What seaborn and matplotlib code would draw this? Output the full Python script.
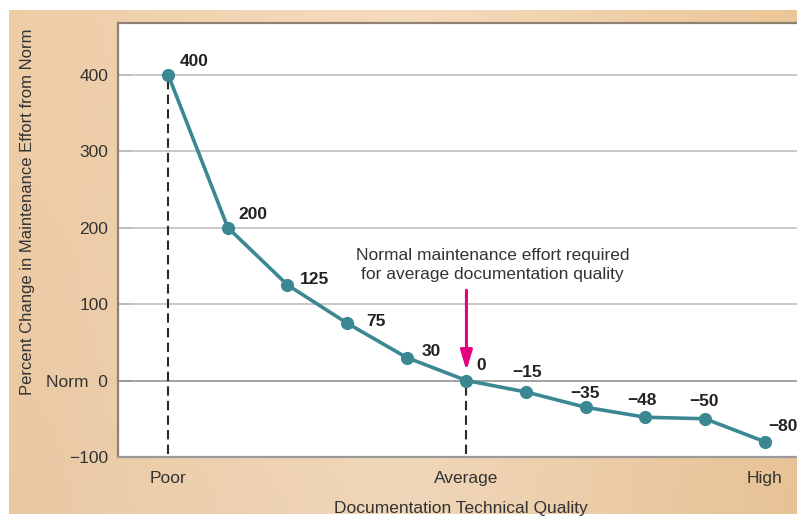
import numpy as np
import matplotlib
matplotlib.use("Agg")
import matplotlib.pyplot as plt
import seaborn as sns

# Documentation quality steps (Poor -> Average -> High) and effort change (%)
quality_index = [0, 1, 2, 3, 4, 5, 6, 7, 8, 9, 10]
effort_change = [400, 200, 125, 75, 30, 0, -15, -35, -48, -50, -80]
value_labels = ["400", "200", "125", "75", "30", "0", "\u221215", "\u221235", "\u221248", "\u221250", "\u221280"]

x_tick_pos = [0, 5, 10]
x_tick_labels = ["Poor", "Average", "High"]
y_tick_pos = [-100, 0, 100, 200, 300, 400]
y_tick_labels = ["\u2212100", "Norm  0", "100", "200", "300", "400"]

sns.set_theme(style="white")
plt.rcParams["font.family"] = ["Liberation Sans", "DejaVu Sans"]

fig = plt.figure(figsize=(7.97, 5.17), dpi=100, facecolor="white")

# warm tan backdrop
bg = fig.add_axes([9 / 797, 3 / 517, 1 - 9 / 797, 504 / 517], zorder=0)
gx = np.linspace(0, 1, 256)
c_left = np.array([0.925, 0.795, 0.645])
c_mid = np.array([0.950, 0.850, 0.735])
c_right = np.array([0.915, 0.770, 0.590])
w = np.clip(1 - np.abs(gx - 0.5) * 2, 0, 1)[:, None]
side = np.where(gx[:, None] < 0.5, c_left, c_right)
row = side * (1 - w) + c_mid * w
gy = np.linspace(0, 1, 64)[:, None, None]
img = row[None, :, :] * (0.99 + 0.02 * gy)
bg.imshow(np.clip(img, 0, 1), aspect="auto", extent=[0, 1, 0, 1], origin="lower")
bg.axis("off")

ax = fig.add_axes([118 / 797, 60 / 517, 679 / 797, 434 / 517], zorder=1)
ax.set_facecolor("white")
ax.set_xlim(-0.84, 10.54)
ax.set_ylim(-96, 467.5)

# horizontal reference lines
for yv in [100, 200, 300, 400]:
    ax.axhline(yv, color="#c4c4c4", lw=1.3, zorder=1)
ax.axhline(0, color="#9a9a9a", lw=1.3, zorder=1)

# dashed drop lines at Poor and Average
ax.vlines([quality_index[0], quality_index[5]], -96,
          [effort_change[0], effort_change[5]],
          colors="#2a2a2a", linestyles=(0, (4.5, 2.5)), lw=1.5, zorder=2)

teal = "#3b8893"
sns.lineplot(x=quality_index, y=effort_change, ax=ax, color=teal, lw=2.6,
             marker="o", markersize=9.5, markeredgewidth=0,
             markerfacecolor=teal, zorder=3)

label_offsets = [(26, 13), (25, 13), (27, 5), (29, 2), (24, 6), (15, 15),
                 (1, 19), (-1, 14), (-4, 17), (-1, 17), (18, 15)]
for xi, yi, lab, (dx, dy) in zip(quality_index, effort_change, value_labels, label_offsets):
    ax.annotate(lab, (xi, yi), xytext=(dx, dy), textcoords="offset pixels",
                ha="center", va="center", fontsize=12.5, fontweight="bold",
                color="#222222", zorder=4)

# annotation arrow for the norm point
ax.annotate("", xy=(5, 13), xytext=(5, 118),
            arrowprops=dict(arrowstyle="-|>,head_length=1.0,head_width=0.3",
                            color="#e4007f", lw=2.2, shrinkA=0, shrinkB=0),
            zorder=5)
ax.text(5.44, 151, "Normal maintenance effort required\nfor average documentation quality",
        ha="center", va="center", fontsize=12.5, color="#333333", linespacing=1.4)

ax.set_xticks(x_tick_pos)
ax.set_xticklabels(x_tick_labels)
ax.set_yticks(y_tick_pos)
ax.set_yticklabels(y_tick_labels)
ax.tick_params(axis="x", length=0, pad=10, labelsize=12.5, labelcolor="#333333")
ax.tick_params(axis="y", direction="in", length=9, width=1.3, color="#7a7a7a",
               pad=7, labelsize=12.5, labelcolor="#333333", left=True)
ax.grid(False)

for s in ["left", "top"]:
    ax.spines[s].set_color("#8f8273")
    ax.spines[s].set_linewidth(1.6)
ax.spines["bottom"].set_color("#9a9a9a")
ax.spines["bottom"].set_linewidth(1.6)
ax.spines["right"].set_visible(False)

ax.set_xlabel("Documentation Technical Quality", fontsize=12.5, color="#333333")
ax.set_ylabel("Percent Change in Maintenance Effort from Norm", fontsize=12,
              color="#333333")
# place axis titles in figure pixels
ax.yaxis.set_label_coords((35 - 118) / 679, (517 - 212 - 60) / 434)
ax.xaxis.set_label_coords((461 - 118) / 679, -(501 - 457) / 434)

fig.savefig("out.png", dpi=100)
